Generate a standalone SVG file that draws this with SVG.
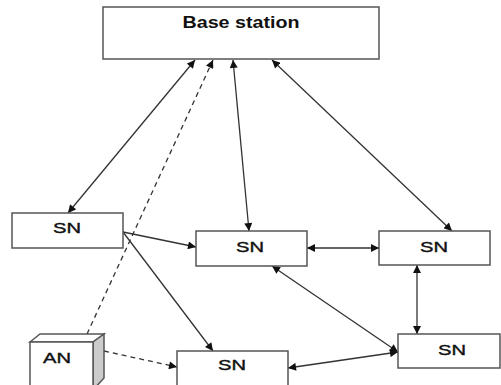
<svg xmlns="http://www.w3.org/2000/svg" width="501" height="385" viewBox="0 0 501 385">
<defs>
<style>
.box{fill:#fff;stroke:#555;stroke-width:1.5}
.lbl{font-family:"Liberation Sans",Arial,sans-serif;font-weight:bold;fill:#111;text-anchor:middle}
.sn{font-size:15.5px;font-weight:normal;stroke:#111;stroke-width:0.4}
.ln{stroke:#333;stroke-width:1.3;fill:none}
.dash{stroke-dasharray:5,4}
</style>
<marker id="ah" viewBox="0 0 10 10" refX="10" refY="5" markerWidth="9" markerHeight="8" markerUnits="userSpaceOnUse" orient="auto-start-reverse">
<path d="M0,0 L10,5 L0,10 Z" fill="#111"/>
</marker>
</defs>
<rect width="501" height="385" fill="#fff"/>
<g id="connectors">
<line class="ln" x1="195" y1="60" x2="68" y2="213" marker-start="url(#ah)" marker-end="url(#ah)"/>
<line class="ln dash" x1="87" y1="334" x2="213" y2="60" marker-end="url(#ah)"/>
<line class="ln" x1="233" y1="60" x2="249" y2="231" marker-start="url(#ah)" marker-end="url(#ah)"/>
<line class="ln" x1="272" y1="60" x2="452" y2="231" marker-start="url(#ah)" marker-end="url(#ah)"/>
<line class="ln" x1="123" y1="232" x2="196" y2="247" marker-end="url(#ah)"/>
<line class="ln" x1="123" y1="232" x2="213" y2="351" marker-end="url(#ah)"/>
<line class="ln dash" x1="104" y1="351" x2="177" y2="367" marker-end="url(#ah)"/>
<line class="ln" x1="307" y1="248" x2="379" y2="248" marker-start="url(#ah)" marker-end="url(#ah)"/>
<line class="ln" x1="272" y1="266" x2="398" y2="352" marker-start="url(#ah)" marker-end="url(#ah)"/>
<line class="ln" x1="417" y1="265" x2="417" y2="334" marker-start="url(#ah)" marker-end="url(#ah)"/>
<line class="ln" x1="288" y1="368" x2="398" y2="352" marker-start="url(#ah)" marker-end="url(#ah)"/>
</g>
<g id="base">
<rect class="box" x="103" y="7" width="276" height="52"/>
<text class="lbl" x="241" y="28" font-size="16" textLength="117" lengthAdjust="spacingAndGlyphs">Base station</text>
</g>
<g id="sn-left">
<rect class="box" x="12" y="213" width="111" height="35"/>
<text class="lbl sn" x="67" y="233" textLength="28" lengthAdjust="spacingAndGlyphs">SN</text>
</g>
<g id="sn-mid">
<rect class="box" x="196" y="231" width="111" height="35"/>
<text class="lbl sn" x="250" y="252" textLength="28" lengthAdjust="spacingAndGlyphs">SN</text>
</g>
<g id="sn-right">
<rect class="box" x="379" y="231" width="111" height="34"/>
<text class="lbl sn" x="434" y="252" textLength="28" lengthAdjust="spacingAndGlyphs">SN</text>
</g>
<g id="sn-bottom-right">
<rect class="box" x="398" y="334" width="102" height="34"/>
<text class="lbl sn" x="452" y="355" textLength="28" lengthAdjust="spacingAndGlyphs">SN</text>
</g>
<g id="sn-bottom">
<rect class="box" x="177" y="351" width="111" height="40"/>
<text class="lbl sn" x="232" y="370" textLength="28" lengthAdjust="spacingAndGlyphs">SN</text>
</g>
<g id="an">
<path d="M30,342 L40,334 L104,334 L93,342 Z" fill="#fff" stroke="#555" stroke-width="1.5"/>
<path d="M93,342 L104,334 L104,378 L93,390 Z" fill="#ccc" stroke="#555" stroke-width="1.5"/>
<rect class="box" x="30" y="342" width="63" height="50"/>
<text class="lbl sn" x="57" y="363" textLength="28" lengthAdjust="spacingAndGlyphs">AN</text>
</g>
</svg>
